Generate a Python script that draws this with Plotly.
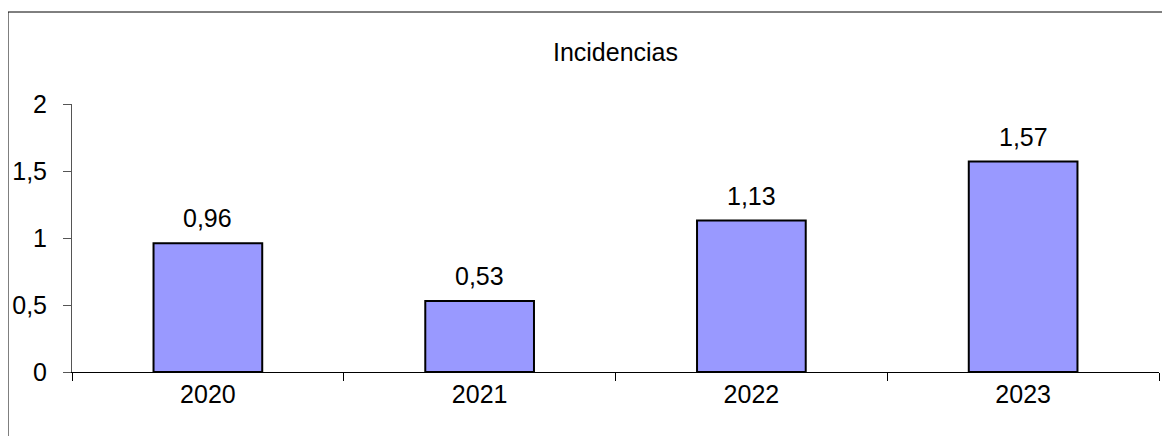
import plotly.graph_objects as go

categories = ["2020", "2021", "2022", "2023"]
values = [0.96, 0.53, 1.13, 1.57]
labels = ["0,96", "0,53", "1,13", "1,57"]
title_text = "Incidencias"

# page offset (browser body margin) compensation
OX, OY = 8, 8
W, H = 1170, 436
L, T = 72 - OX, 104 - OY
pw, ph = 1087, 268
R = W - L - pw
B = H - T - ph

FONT = "Liberation Sans, Arial, sans-serif"
fs = 25

fig = go.Figure()
fig.add_trace(go.Bar(
    x=categories, y=values,
    marker=dict(color="#9999FF", line=dict(color="#000000", width=2)),
    hoverinfo="skip",
))

for i, (v, t) in enumerate(zip(values, labels)):
    fig.add_annotation(x=i, y=v, xref="x", yref="y", text=t, showarrow=False,
                       yanchor="bottom", yshift=9,
                       font=dict(family=FONT, size=fs, color="#000"))

def px_x(p):
    return (p - OX - L) / pw

def px_y(p):
    return (T + ph - (p - OY)) / ph

fig.add_shape(type="rect", xref="paper", yref="paper",
              x0=px_x(8), x1=px_x(1200), y0=px_y(460), y1=px_y(12),
              line=dict(color="#000", width=1), fillcolor="rgba(0,0,0,0)", layer="below")

fig.update_layout(
    width=W, height=H,
    margin=dict(l=L, r=R, t=T, b=B, pad=0, autoexpand=False),
    paper_bgcolor="white", plot_bgcolor="white",
    separators=",.",
    showlegend=False,
    bargap=0.6,
    font=dict(family=FONT, size=fs, color="#000"),
    title=dict(text=title_text, x=0.5, xref="paper", xanchor="center",
               y=(H - (52 - OY)) / H, yanchor="middle", yref="container",
               font=dict(family=FONT, size=fs, color="#000")),
    xaxis=dict(
        type="category", showgrid=False, zeroline=False, automargin=False,
        range=[-0.5, len(categories) - 0.5],
        showline=True, linecolor="#000", linewidth=1,
        ticks="outside", tickson="boundaries", ticklen=8, tickcolor="#000",
        tickangle=0,
        tickfont=dict(family=FONT, size=fs, color="#000"),
    ),
    yaxis=dict(
        range=[0, 2], dtick=0.5, showgrid=False, zeroline=False, automargin=False,
        showline=True, linecolor="#555", linewidth=1,
        ticks="outside", ticklen=8, tickcolor="#555",
        ticklabelstandoff=11,
        tickfont=dict(family=FONT, size=fs, color="#000"),
    ),
)

fig.write_html("out.html")
